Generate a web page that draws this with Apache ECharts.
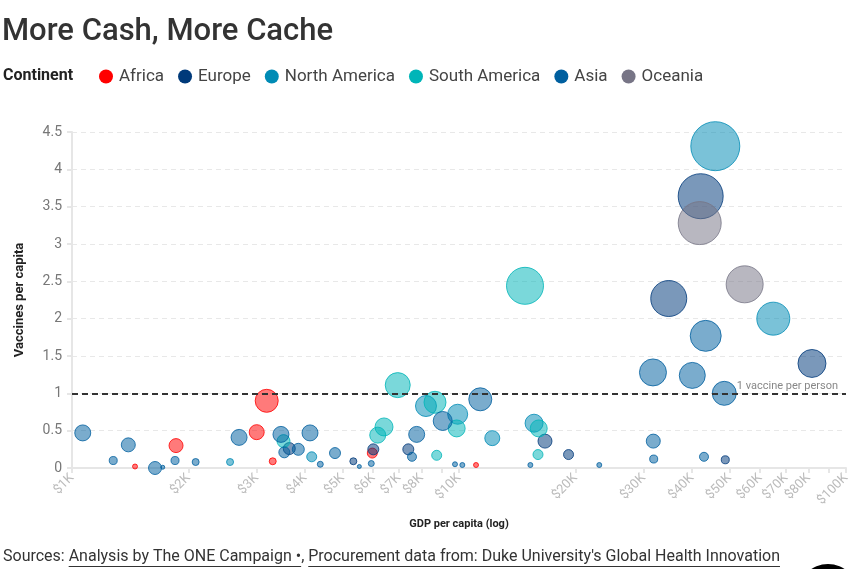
<!DOCTYPE html>
<html><head><meta charset="utf-8">
<script src="https://cdn.jsdelivr.net/npm/echarts@6/dist/echarts.min.js"></script>
<style>html,body{margin:0;padding:0;background:#fff}#c{width:853px;height:569px}</style>
</head><body><div id="c"></div>
<script>
// ---- data: [GDP per capita (USD), vaccines per capita, population (millions)] ----
const continents = ['Africa', 'Europe', 'North America', 'South America', 'Asia', 'Oceania'];
const colors = ['#ff0000', '#003a7a', '#008bb5', '#00b5b8', '#005f9f', '#777586'];

const africa = [[1455,0.02,3.4],[1857,0.30,26.9],[3001,0.48,30.9],[3185,0.90,72.6],[3301,0.09,6.7],[5970,0.20,13.7],[11066,0.04,3.4]];
const europe = [[3643,0.26,19.8],[5333,0.09,6.7],[6006,0.25,16.6],[7396,0.25,16.6],[16680,0.36,26.9],[19190,0.18,13.7],[48760,0.11,8.8],[81670,1.40,107.5],[42120,3.64,277.8],[34830,2.27,177.8]];
const northAmerica = [[2561,0.08,6.7],[4163,0.15,13.7],[8216,0.83,60.5],[9922,0.72,54.9],[12190,0.40,30.9],[15630,0.60,44.4],[64880,2.00,149.4],[45950,4.31,329.4]];
const southAmerica = [[3520,0.36,23.2],[6166,0.44,35.1],[6401,0.55,44.4],[6945,1.11,85.7],[8670,0.88,66.4],[8757,0.17,13.7],[9863,0.53,39.6],[16070,0.53,39.6],[16000,0.18,13.7],[14810,2.44,187.8]];
const asia = [[1066,0.47,35.1],[1278,0.10,8.8],[1398,0.31,26.9],[1639,0.00,23.2],[1716,0.01,2.2],[1846,0.10,8.8],[2087,0.08,6.7],[2702,0.41,35.1],[3467,0.45,35.1],[3537,0.21,16.6],[3844,0.25,19.8],[4121,0.47,35.1],[4381,0.05,4.9],[4782,0.20,16.6],[5527,0.02,2.2],[5934,0.06,4.9],[7560,0.15,11.1],[7774,0.45,35.1],[9076,0.63,49.5],[9765,0.05,3.4],[10200,0.04,3.4],[11350,0.92,72.6],[15290,0.04,3.4],[23040,0.04,3.4],[31770,0.36,26.9],[31850,0.12,8.8],[42960,0.15,11.1],[31710,1.28,100],[40070,1.24,92.7],[43400,1.77,131.8],[48470,1.00,79]];
const oceania = [[41880,3.28,253.6],[54720,2.46,187.8]];
const seriesData = [africa, europe, northAmerica, southAmerica, asia, oceania];

const xTickValues = [1000,2000,3000,4000,5000,6000,7000,8000,9000,10000,20000,30000,40000,50000,60000,70000,80000,90000,100000];
const xLabelValues = [1000,2000,3000,4000,5000,6000,7000,8000,10000,20000,30000,40000,50000,60000,70000,80000,100000];
const referenceLine = 1;
const referenceLabel = '1 vaccine per person';

const sourceParts = [
  ['Sources: ', false],
  ['Analysis by The ONE Campaign \u2022', true],
  [', ', false],
  ["Procurement data from: Duke University's Global Health Innovation", true]
];

// ---- chart ----
const FONT = 'Roboto, "Noto Sans", sans-serif';
function rgba(hex, a) {
  const n = parseInt(hex.slice(1), 16);
  return 'rgba(' + ((n >> 16) & 255) + ',' + ((n >> 8) & 255) + ',' + (n & 255) + ',' + a + ')';
}

const series = continents.map((name, i) => ({
  name: name,
  type: 'scatter',
  data: seriesData[i].map(d => [Math.log10(d[0]), d[1], d[2]]),
  symbolSize: d => 2.7 * Math.sqrt(d[2]),
  itemStyle: { color: rgba(colors[i], 0.65), borderColor: colors[i], borderWidth: 1 },
  emphasis: { disabled: true }
}));
series[series.length - 1].markLine = {
  silent: true,
  symbol: 'none',
  data: [{ yAxis: referenceLine }],
  lineStyle: { color: '#333', width: 2, type: [6, 4] },
  label: {
    show: true, position: 'insideEndTop', formatter: referenceLabel,
    color: '#888', fontSize: 11, fontFamily: FONT, distance: [8, 2]
  },
  z: 10
};

// source footer (text + underlines)
const ctx = document.createElement('canvas').getContext('2d');
const srcFont = '16px Roboto';
ctx.font = srcFont;
const graphics = [];
let cx = 3;
sourceParts.forEach(p => {
  const w = ctx.measureText(p[0]).width;
  graphics.push({ type: 'text', left: cx, top: 549, style: { text: p[0], fill: '#333', font: srcFont } });
  if (p[1]) {
    graphics.push({ type: 'line', shape: { x1: cx, y1: 566.5, x2: cx + w, y2: 566.5 }, style: { stroke: '#333', lineWidth: 1 } });
  }
  cx += w;
});
graphics.push({ type: 'circle', shape: { cx: 828, cy: 594, r: 30 }, style: { fill: '#000' } });

const option = {
  animation: false,
  backgroundColor: '#fff',
  title: [
    { text: 'More Cash, More Cache', left: 2, top: 17, padding: 0,
      textStyle: { fontFamily: FONT, fontSize: 31, fontWeight: 500, color: '#333' } },
    { text: 'Continent', left: 3, top: 68, padding: 0,
      textStyle: { fontFamily: FONT, fontSize: 16, fontWeight: 'bold', color: '#222' } }
  ],
  legend: {
    left: 99, top: 68, padding: 0, icon: 'circle', itemWidth: 16, itemHeight: 14, itemGap: 14,
    textStyle: { fontFamily: FONT, fontSize: 17, color: '#444' },
    data: continents.map((n, i) => ({ name: n, itemStyle: { color: colors[i], borderWidth: 0, opacity: 1 } }))
  },
  grid: { left: 72, right: 7, top: 132, bottom: 101 },
  xAxis: {
    type: 'value', min: 3, max: 5,
    name: 'GDP per capita (log)', nameLocation: 'middle', nameGap: 51,
    nameTextStyle: { fontFamily: FONT, fontSize: 11, fontWeight: 'bold', color: '#222' },
    axisLine: { lineStyle: { color: '#e6e6e6', width: 2 } },
    axisTick: { show: true, length: 5, lineStyle: { color: '#e6e6e6', width: 2 },
      customValues: xTickValues.map(v => Math.log10(v)) },
    axisLabel: { rotate: 45, color: '#bbb', fontSize: 13, fontFamily: FONT, margin: 8,
      customValues: xLabelValues.map(v => Math.log10(v)),
      formatter: v => '$' + Math.round(Math.pow(10, v) / 1000) + 'K' },
    splitLine: { show: false }
  },
  yAxis: {
    type: 'value', min: 0, max: 4.5, interval: 0.5,
    name: 'Vaccines per capita', nameLocation: 'middle', nameGap: 46,
    nameTextStyle: { fontFamily: FONT, fontSize: 13, fontWeight: 'bold', color: '#222' },
    axisLine: { show: true, lineStyle: { color: '#e6e6e6', width: 2 } },
    axisTick: { show: true, length: 5, lineStyle: { color: '#e6e6e6', width: 2 } },
    axisLabel: { color: '#777', fontSize: 14, fontFamily: FONT, margin: 10 },
    splitLine: { lineStyle: { color: '#e8e8e8', type: [5, 4] } }
  },
  series: series,
  graphic: graphics
};
const chart = echarts.init(document.getElementById('c'));
chart.setOption(option);
</script>
</body></html>
